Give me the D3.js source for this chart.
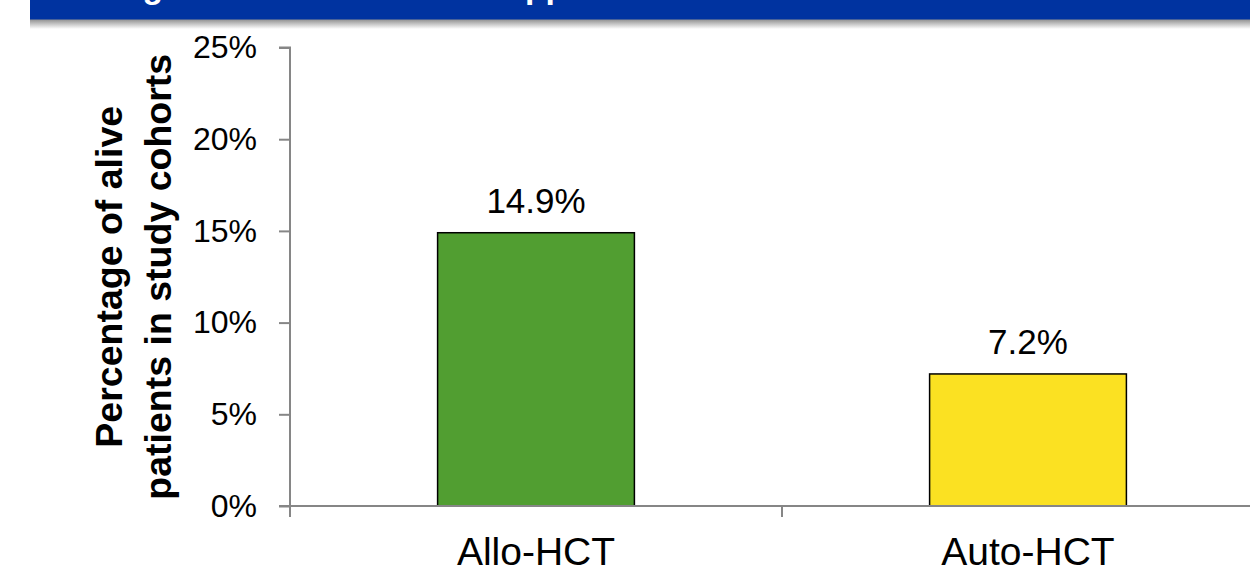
<!DOCTYPE html>
<html>
<head>
<meta charset="utf-8">
<script src="https://cdn.jsdelivr.net/npm/d3@7/dist/d3.min.js"></script>
<style>
  html, body { margin: 0; padding: 0; background: #fff; }
  svg { display: block; }
  text { font-family: "Liberation Sans", Arial, sans-serif; }
</style>
</head>
<body>
<svg id="chart" width="1250" height="569"></svg>
<script>
const categories = ["Allo-HCT", "Auto-HCT"];
const values = [14.9, 7.2];
const valueLabels = ["14.9%", "7.2%"];
const yTicks = [0, 5, 10, 15, 20, 25];
const barColors = ["#519e31", "#fbe122"];
const titleText = "Long-term survivors: HCT approach";
const yTitleLines = ["Percentage of alive", "patients in study cohorts"];

const svg = d3.select("#chart");

// banner
const defs = svg.append("defs");
const grad = defs.append("linearGradient").attr("id", "shadow").attr("x1", 0).attr("y1", 0).attr("x2", 0).attr("y2", 1);
grad.append("stop").attr("offset", "0%").attr("stop-color", "#8c8c8c");
grad.append("stop").attr("offset", "100%").attr("stop-color", "#ffffff");
svg.append("rect").attr("x", 30).attr("y", 19).attr("width", 1220).attr("height", 10).attr("fill", "url(#shadow)");
svg.append("rect").attr("x", 30).attr("y", 0).attr("width", 1220).attr("height", 19.5).attr("fill", "#0033a0");
svg.append("text").attr("x", 81).attr("y", -2).attr("fill", "#fff")
  .attr("font-weight", "bold").attr("font-size", 33.6).text(titleText);

const plot = { left: 290, right: 1274, top: 47.5, bottom: 506 };

const x = d3.scaleBand().domain(categories).range([plot.left, plot.right])
  .paddingInner(0.6).paddingOuter(0.3);
const y = d3.scaleLinear().domain([0, 25]).range([plot.bottom, plot.top]);

// bars
svg.append("g").selectAll("rect").data(values).join("rect")
  .attr("x", (d, i) => x(categories[i]))
  .attr("y", d => y(d))
  .attr("width", x.bandwidth())
  .attr("height", d => y(0) - y(d))
  .attr("fill", (d, i) => barColors[i])
  .attr("stroke", "#000").attr("stroke-width", 1.5);

// value labels
svg.append("g").selectAll("text").data(values).join("text")
  .attr("x", (d, i) => x(categories[i]) + x.bandwidth() / 2)
  .attr("y", d => y(d) - 20)
  .attr("text-anchor", "middle")
  .attr("font-size", 35).attr("fill", "#000")
  .text((d, i) => valueLabels[i]);

// y axis
const yAxis = svg.append("g").attr("transform", `translate(${plot.left},0)`)
  .call(d3.axisLeft(y).tickValues(yTicks).tickFormat(d => d + "%").tickSize(11).tickPadding(22));
yAxis.selectAll("path, line").attr("stroke", "#868686").attr("stroke-width", 2);
yAxis.selectAll("text").attr("font-size", 32).attr("fill", "#000")
  .attr("font-family", "'Liberation Sans', Arial, sans-serif");
yAxis.select(".domain").attr("d", `M-11,${y(25)}H0V${y(0)}`);

// x axis baseline and category boundaries
const step = x.step();
const bounds = [x(categories[0]) + x.bandwidth() / 2 - step / 2]
  .concat(categories.map(c => x(c) + x.bandwidth() / 2 + step / 2));
svg.append("line").attr("x1", plot.left - 11).attr("x2", 1250)
  .attr("y1", y(0)).attr("y2", y(0)).attr("stroke", "#868686").attr("stroke-width", 2);
svg.append("g").selectAll("line").data(bounds).join("line")
  .attr("x1", d => d).attr("x2", d => d)
  .attr("y1", y(0)).attr("y2", y(0) + 11)
  .attr("stroke", "#868686").attr("stroke-width", 2);

// category labels
svg.append("g").selectAll("text").data(categories).join("text")
  .attr("x", c => x(c) + x.bandwidth() / 2)
  .attr("y", 565)
  .attr("text-anchor", "middle")
  .attr("font-size", 39).attr("fill", "#000")
  .text(c => c);

// y title
const yt = svg.append("text").attr("transform", `translate(136,${(plot.top + plot.bottom) / 2}) rotate(-90)`)
  .attr("text-anchor", "middle").attr("font-weight", "bold").attr("font-size", 37.5).attr("fill", "#000");
yt.selectAll("tspan").data(yTitleLines).join("tspan")
  .attr("x", 0).attr("dy", (d, i) => i === 0 ? "-0.38em" : "1.3em")
  .text(d => d);
</script>
</body>
</html>
